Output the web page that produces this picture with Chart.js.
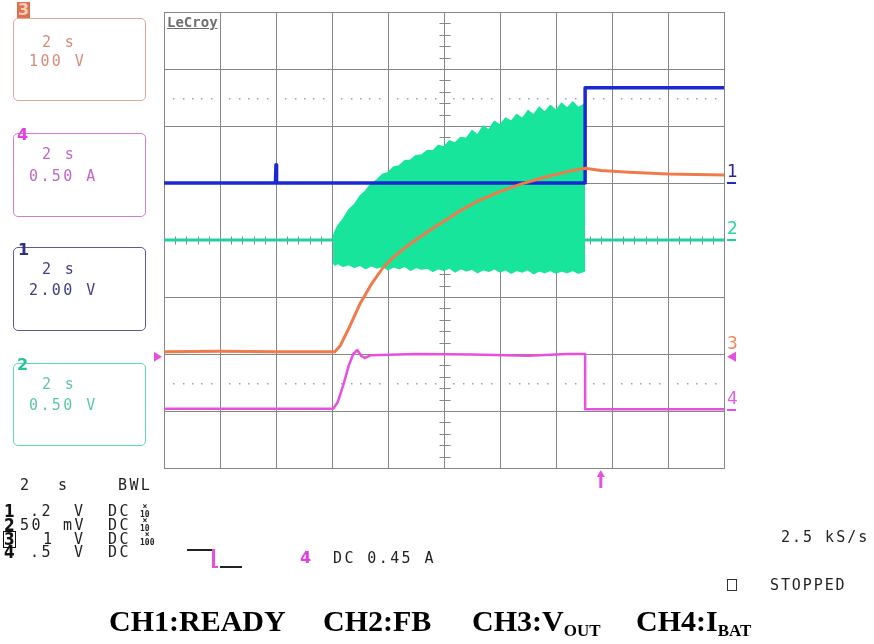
<!DOCTYPE html>
<html>
<head>
<meta charset="utf-8">
<script src="https://cdn.jsdelivr.net/npm/chart.js@4"></script>
<style>
  body { margin: 0; background: #fff; }
  #wrap { position: relative; width: 874px; height: 644px; overflow: hidden; }
  #scope { position: absolute; left: 0; top: 0; }
  .t { position: absolute; font-family: "DejaVu Sans Mono", monospace; line-height: 1; white-space: pre; }
  .box { position: absolute; border: 1.5px solid; border-radius: 5px; box-sizing: border-box; }
  .cap { position: absolute; font-family: "Liberation Serif", "Times New Roman", serif; font-weight: bold;
         font-size: 30px; line-height: 1; white-space: pre; color: #000; }
  .cap sub { font-size: 17px; vertical-align: -5px; }
  .mult { position: absolute; font-family: "DejaVu Sans Mono", monospace; font-size: 8px; line-height: 8px;
          font-weight: bold; text-align: center; }
</style>
</head>
<body>
<div id="wrap">
  <canvas id="scope" width="874" height="644"></canvas>
</div>
<script>
// time axis in divisions (2 s/div), vertical axis in divisions from screen centre
const ch1Time = [0, 1.99, 2.0, 2.01, 7.52, 7.52, 10];
const ch1Level = [1.0, 1.0, 1.32, 1.0, 1.0, 2.67, 2.67];

const ch2BaseTime = [0, 10];
const ch2BaseLevel = [0, 0];

const ch2Time = [3.02, 3.05, 3.1, 3.2, 3.3, 3.4, 3.5, 3.6, 3.7, 3.8, 3.9, 4.0, 4.1, 4.2, 4.3, 4.4,
  4.5, 4.6, 4.7, 4.8, 4.9, 5.0, 5.1, 5.2, 5.3, 5.4, 5.5, 5.6, 5.7, 5.8, 5.9, 6.0,
  6.1, 6.2, 6.3, 6.4, 6.5, 6.6, 6.7, 6.8, 6.9, 7.0, 7.1, 7.2, 7.3, 7.4, 7.5, 7.52];
const ch2Upper = [0.05, 0.14, 0.24, 0.37, 0.53, 0.62, 0.77, 0.86, 0.99, 1.05, 1.15, 1.18, 1.28, 1.30, 1.39, 1.40,
  1.48, 1.49, 1.57, 1.56, 1.66, 1.63, 1.74, 1.70, 1.80, 1.78, 1.92, 1.84, 2.00, 1.93, 2.08, 2.01,
  2.14, 2.08, 2.20, 2.13, 2.27, 2.19, 2.33, 2.24, 2.36, 2.27, 2.40, 2.31, 2.42, 2.32, 2.38, 2.30];
const ch2Lower = [-0.38, -0.44, -0.41, -0.46, -0.43, -0.48, -0.44, -0.50, -0.45, -0.49, -0.46, -0.52, -0.47, -0.50, -0.46, -0.53,
  -0.48, -0.51, -0.49, -0.55, -0.50, -0.53, -0.49, -0.56, -0.50, -0.54, -0.51, -0.57, -0.52, -0.55, -0.50, -0.56,
  -0.52, -0.58, -0.53, -0.56, -0.52, -0.59, -0.54, -0.57, -0.53, -0.58, -0.54, -0.57, -0.53, -0.58, -0.55, -0.52];

const ch3Time = [0, 1.0, 2.0, 3.05, 3.15, 3.3, 3.5, 3.7, 3.9, 4.1, 4.35, 4.7, 5.0, 5.3, 5.6, 6.0, 6.4, 6.8, 7.2, 7.52, 7.8, 8.3, 9.0, 10];
const ch3Level = [-1.96, -1.95, -1.96, -1.96, -1.85, -1.55, -1.12, -0.78, -0.5, -0.3, -0.1, 0.14, 0.33, 0.52, 0.68, 0.85, 0.99, 1.1, 1.2, 1.26, 1.22, 1.19, 1.16, 1.14];

const ch4Time = [0, 3.02, 3.1, 3.2, 3.3, 3.38, 3.45, 3.52, 3.58, 3.7, 4.5, 5.5, 6.5, 7.2, 7.52, 7.52, 10];
const ch4Level = [-2.96, -2.96, -2.85, -2.55, -2.2, -2.0, -1.93, -2.03, -2.07, -2.02, -2.0, -2.01, -2.03, -2.0, -2.0, -2.97, -2.97];

const groundLevels = [1.0, 0, -2.02, -2.98];   // right-hand channel markers 1..4
const triggerLevel = -2.05;
const triggerTime = 7.8;
const dottedLevels = [2.5, -2.5];

const colors = {
  ch1: '#1a2ad0', ch2: '#22cfa0', ch2Fill: '#17e59b', ch3: '#f07a4a', ch4: '#e650e0', grid: '#868686'
};

function pts(xs, ys) { return xs.map((x, i) => ({ x: x, y: ys[i] })); }

const graticule = {
  id: 'graticule',
  beforeDatasetsDraw(chart) {
    const { ctx, scales: { x, y } } = chart;
    ctx.save();
    // dotted helper rows
    ctx.fillStyle = '#a0a0a0';
    dottedLevels.forEach(lv => {
      const py = Math.round(y.getPixelForValue(lv));
      for (let d = 0; d < 10; d++) {
        for (let k = 1; k <= 5; k++) {
          ctx.fillRect(Math.round(x.getPixelForValue(d + k / 6)), py, 1.5, 1.5);
        }
      }
    });
    // minor ticks on the centre axes
    ctx.strokeStyle = colors.grid;
    ctx.lineWidth = 1;
    ctx.beginPath();
    const cx = Math.round(x.getPixelForValue(5)) + 0.5;
    for (let i = 1; i < 40; i++) {
      const py = Math.round(y.getPixelForValue(-4 + i * 0.2)) + 0.5;
      ctx.moveTo(cx - 5, py); ctx.lineTo(cx + 6, py);
    }
    const cy = Math.round(y.getPixelForValue(0)) + 0.5;
    for (let i = 1; i < 50; i++) {
      const px = Math.round(x.getPixelForValue(i * 0.2)) + 0.5;
      ctx.moveTo(px, cy - 4); ctx.lineTo(px, cy + 4);
    }
    ctx.stroke();
    ctx.restore();
  },
  afterDraw(chart) {
    const { ctx, chartArea, scales: { x, y } } = chart;
    ctx.save();
    // ground markers on the right edge
    const r = chartArea.right;
    ctx.lineWidth = 2;
    [colors.ch1, colors.ch2].forEach((c, i) => {
      const py = Math.round(y.getPixelForValue(groundLevels[i]));
      ctx.strokeStyle = c;
      ctx.beginPath(); ctx.moveTo(r + 3, py); ctx.lineTo(r + 12, py); ctx.stroke();
    });
    ctx.strokeStyle = colors.ch4;
    let py = Math.round(y.getPixelForValue(groundLevels[3]));
    ctx.beginPath(); ctx.moveTo(r + 3, py); ctx.lineTo(r + 12, py); ctx.stroke();
    // trigger level triangles
    ctx.fillStyle = colors.ch4;
    py = y.getPixelForValue(triggerLevel);
    ctx.beginPath(); ctx.moveTo(r + 3, py); ctx.lineTo(r + 12, py - 5); ctx.lineTo(r + 12, py + 5); ctx.closePath(); ctx.fill();
    const l = chartArea.left;
    ctx.beginPath(); ctx.moveTo(l - 2, py); ctx.lineTo(l - 10, py - 5); ctx.lineTo(l - 10, py + 5); ctx.closePath(); ctx.fill();
    // trigger position arrow
    const px = x.getPixelForValue(triggerTime);
    const b = chartArea.bottom;
    ctx.strokeStyle = colors.ch4;
    ctx.lineWidth = 3;
    ctx.beginPath(); ctx.moveTo(px, b + 8); ctx.lineTo(px, b + 20); ctx.stroke();
    ctx.beginPath(); ctx.moveTo(px, b + 2); ctx.lineTo(px - 4, b + 9); ctx.lineTo(px + 4, b + 9); ctx.closePath(); ctx.fill();
    ctx.restore();
  }
};

const lineDefaults = { pointRadius: 0, tension: 0, fill: false, borderJoinStyle: 'round', borderCapStyle: 'butt' };

const chart = new Chart(document.getElementById('scope'), {
  type: 'line',
  data: {
    datasets: [
      Object.assign({}, lineDefaults, { data: pts(ch2BaseTime, ch2BaseLevel), borderColor: colors.ch2, borderWidth: 3, order: 6 }),
      Object.assign({}, lineDefaults, { data: pts(ch2Time, ch2Upper), borderColor: colors.ch2Fill, backgroundColor: colors.ch2Fill,
        borderWidth: 1.5, fill: '+1', order: 5 }),
      Object.assign({}, lineDefaults, { data: pts(ch2Time, ch2Lower), borderColor: colors.ch2Fill, borderWidth: 1.5, order: 5 }),
      Object.assign({}, lineDefaults, { data: pts(ch1Time, ch1Level), borderColor: colors.ch1, borderWidth: 3.5, order: 3 }),
      Object.assign({}, lineDefaults, { data: pts(ch3Time, ch3Level), borderColor: colors.ch3, borderWidth: 3, order: 2 }),
      Object.assign({}, lineDefaults, { data: pts(ch4Time, ch4Level), borderColor: colors.ch4, borderWidth: 2.5, order: 1 })
    ]
  },
  options: {
    responsive: false,
    animation: false,
    devicePixelRatio: 1,
    layout: { padding: { left: 164, top: 12, right: 150, bottom: 176 } },
    plugins: { legend: { display: false }, tooltip: { enabled: false } },
    scales: {
      x: {
        type: 'linear', min: 0, max: 10,
        ticks: { display: false, stepSize: 1 },
        grid: { color: colors.grid, lineWidth: 1, drawTicks: false },
        border: { color: colors.grid, width: 1 }
      },
      y: {
        type: 'linear', min: -4, max: 4,
        ticks: { display: false, stepSize: 1 },
        grid: { color: colors.grid, lineWidth: 1, drawTicks: false },
        border: { color: colors.grid, width: 1 }
      }
    }
  },
  plugins: [graticule]
});

// ---- text overlays ----
const wrap = document.getElementById('wrap');

function label(text, x, cy, size, color, extra) {
  const s = document.createElement('div');
  s.className = 't';
  s.textContent = text;
  s.style.left = x + 'px';
  s.style.top = (cy - 0.48 * size) + 'px';
  s.style.fontSize = size + 'px';
  s.style.color = color;
  Object.assign(s.style, extra || {});
  wrap.appendChild(s);
  return s;
}

function box(top, h, border) {
  const b = document.createElement('div');
  b.className = 'box';
  Object.assign(b.style, { left: '13px', top: top + 'px', width: '133px', height: h + 'px', borderColor: border });
  wrap.appendChild(b);
}

const scopeText = { letterSpacing: '2.4px' };
const digit = { fontFamily: '"DejaVu Sans", sans-serif', fontWeight: 'bold' };
const narrowDigit = { fontFamily: '"Liberation Sans Narrow", "DejaVu Sans Condensed", sans-serif', fontWeight: 'bold' };

// channel boxes on the left
box(18, 83, '#e3a595');
label('3', 17, 10, 16, '#fbd2bc', Object.assign({ background: '#e0704e', padding: '0 1px' }, digit));
label('2 s', 42, 42, 15, '#d98a78', scopeText);
label('100 V', 29, 61, 15, '#d98a78', scopeText);

box(133, 84, '#d77ad7');
label('4', 17, 135, 16, '#e040e0', digit);
label('2 s', 42, 154, 15, '#c266c8', scopeText);
label('0.50 A', 29, 176, 15, '#c266c8', scopeText);

box(247, 84, '#5a5a96');
label('1', 18, 250, 16, '#303088', digit);
label('2 s', 42, 269, 15, '#404088', scopeText);
label('2.00 V', 29, 290, 15, '#404088', scopeText);

box(363, 83, '#5fd8b8');
label('2', 17, 365, 16, '#22c89c', digit);
label('2 s', 42, 384, 15, '#5cc8a4', scopeText);
label('0.50 V', 29, 405, 15, '#5cc8a4', scopeText);

// LeCroy logo
label('LeCroy', 167, 22, 14, '#6e6e6e', { fontWeight: 'bold', textDecoration: 'underline' });

// right-hand channel numbers, placed from the ground levels
const rightNums = [['1', '#26269a'], ['2', '#2fd2aa'], ['3', '#f0885a'], ['4', '#e060e0']];
rightNums.forEach(([n, c], i) => {
  const py = chart.scales.y.getPixelForValue(groundLevels[i]);
  label(n, 727, py - 12, 17, c, { fontFamily: '"DejaVu Sans", sans-serif' });
});

// bottom status block
label('2', 20, 485, 15, '#222');
label('s', 58, 485, 15, '#222');
label('BWL', 118, 485, 15, '#222', scopeText);
const rows = [
  ['1', '.2', 30, 'V', 74, '10', 511],
  ['2', '50', 20, 'mV', 63, '10', 525],
  ['3', '1', 43, 'V', 74, '100', 539],
  ['4', '.5', 30, 'V', 74, '', 552]
];
rows.forEach(([n, val, vx, unit, ux, mult, cy]) => {
  const d = label(n, 4, cy, 17, '#111', narrowDigit);
  if (n === '3') Object.assign(d.style, { outline: '1.5px solid #111', outlineOffset: '-1px', padding: '0 1px', left: '3px' });
  label(val, vx, cy, 15, '#222', scopeText);
  label(unit, ux, cy, 15, '#222', scopeText);
  label('DC', 108, cy, 15, '#222', scopeText);
  if (mult) {
    const m = document.createElement('div');
    m.className = 'mult';
    m.innerHTML = '×<br>' + mult;
    Object.assign(m.style, { left: '140px', top: (cy - 8) + 'px', color: '#222' });
    wrap.appendChild(m);
  }
});

// trigger slope symbol
[[187, 549, 25, 1.5, '#222'], [212, 549, 3, 19, colors.ch4], [212, 566, 6, 2, colors.ch4], [220, 566, 22, 1.5, '#222']]
  .forEach(([x, y, w, h, c]) => {
    const e = document.createElement('div');
    Object.assign(e.style, { position: 'absolute', left: x + 'px', top: y + 'px', width: w + 'px', height: h + 'px', background: c });
    wrap.appendChild(e);
  });
label('4', 300, 558, 16, '#e040e0', digit);
label('DC 0.45 A', 333, 558, 15, '#222', scopeText);

label('2.5 kS/s', 781, 537, 15, '#222', { letterSpacing: '2px' });
const sq = document.createElement('div');
Object.assign(sq.style, { position: 'absolute', left: '727px', top: '579px', width: '8px', height: '10px', border: '1px solid #333' });
wrap.appendChild(sq);
label('STOPPED', 770, 585, 15, '#222', { letterSpacing: '1.9px' });

// caption
[['CH1:READY', 109], ['CH2:FB', 323], ['CH3:V<sub>OUT</sub>', 472], ['CH4:I<sub>BAT</sub>', 636]].forEach(([html, x]) => {
  const c = document.createElement('div');
  c.className = 'cap';
  c.innerHTML = html;
  c.style.left = x + 'px';
  c.style.top = '606px';
  wrap.appendChild(c);
});
</script>
</body>
</html>
